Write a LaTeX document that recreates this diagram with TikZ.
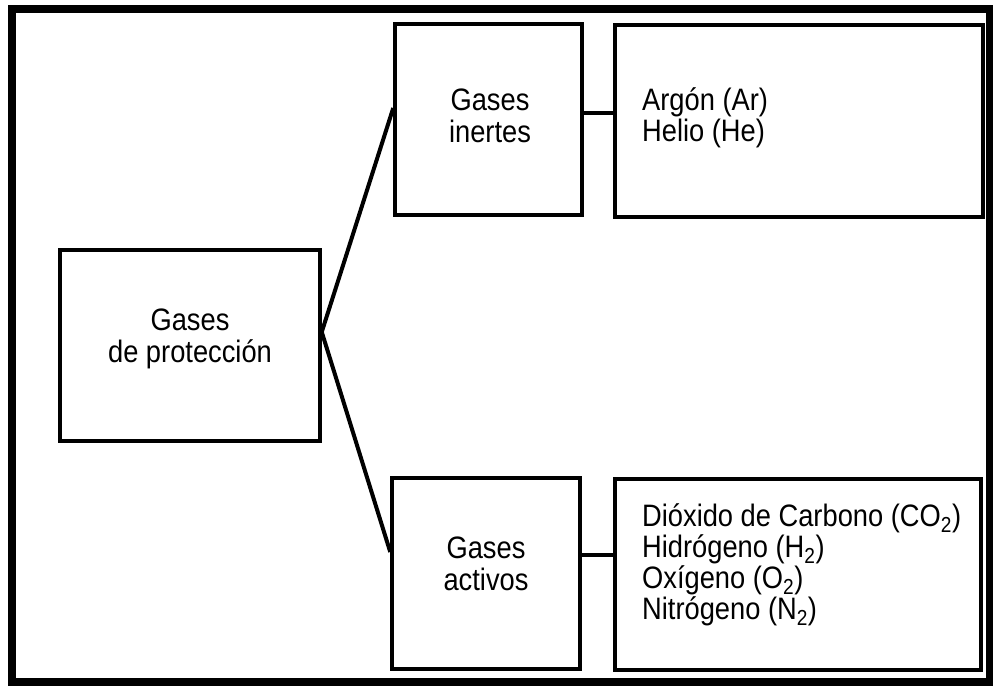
\documentclass[tikz,border=0pt]{standalone}
\usepackage{fontspec}
\setmainfont{Liberation Sans}[FakeStretch=0.88]
\begin{document}
\begin{tikzpicture}[x=1pt,y=-1pt,
  box/.style={draw, line width=3.5pt, inner sep=0pt, rectangle},
  link/.style={line width=4pt},
  txt/.style={inner sep=0pt, font=\fontsize{31}{32}\selectfont}]
\useasboundingbox (0,0) rectangle (993,686);
\draw[line width=8pt] (12,9) rectangle (990,682);
% boxes
\node[box, minimum width=260pt, minimum height=191pt] (prot) at (190,345.5) {};
\node[box, minimum width=187pt, minimum height=191pt] (inertes) at (488.5,119.5) {};
\node[box, minimum width=368pt, minimum height=192pt] (argon) at (799,121) {};
\node[box, minimum width=188pt, minimum height=191pt] (activos) at (486,573.5) {};
\node[box, minimum width=366pt, minimum height=191pt] (diox) at (798,574.5) {};
% texts
\node[txt, anchor=base] (p1) at (190,330) {Gases};
\node[txt, anchor=base] (p2) at (190,362) {de protección};
\node[txt, anchor=base] (i1) at (490,110) {Gases};
\node[txt, anchor=base] (i2) at (490,142) {inertes};
\node[txt, anchor=base] (a1) at (486,558) {Gases};
\node[txt, anchor=base] (a2) at (486,590) {activos};
\node[txt, anchor=base west] (l1) at (642,110) {Argón (Ar)};
\node[txt, anchor=base west] (l2) at (642,141) {Helio (He)};
\node[txt, anchor=base west] (d1) at (642,526) {Dióxido de Carbono (CO\textsubscript{2})};
\node[txt, anchor=base west] (d2) at (642,557) {Hidrógeno (H\textsubscript{2})};
\node[txt, anchor=base west] (d3) at (642,588) {Oxígeno (O\textsubscript{2})};
\node[txt, anchor=base west] (d4) at (642,619) {Nitrógeno (N\textsubscript{2})};
% connectors
\coordinate (apex) at ([yshift=13.5pt]prot.east);
\draw[link, line join=miter] ([yshift=11.5pt]inertes.west) -- (apex) -- ([yshift=21.5pt]activos.west);
\draw[link] ([yshift=6.5pt]inertes.east) -- ([yshift=6.5pt]inertes.east -| argon.west);
\draw[link] ([yshift=18.5pt]activos.east) -- ([yshift=18.5pt]activos.east -| diox.west);
\end{tikzpicture}
\end{document}
